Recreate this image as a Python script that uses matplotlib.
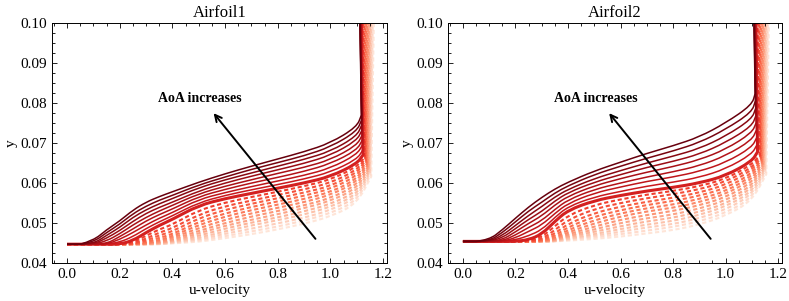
#!/usr/bin/env python3
"""
Velocity profiles for two airfoils, coloured by angle of attack.
"""

import matplotlib
matplotlib.use('Agg')  # no display
import matplotlib.pyplot as plt
import numpy as np
from matplotlib.path import Path
from matplotlib.patches import PathPatch
from matplotlib.ticker import MultipleLocator

# u-velocity positions where each profile was read (the profile is flat on
# the wall value for u = 0 and u = 0.05)
U_GRID = [0.1, 0.15, 0.2, 0.25, 0.3, 0.35, 0.4, 0.5, 0.6, 0.7, 0.8, 0.9, 1.0, 1.1]

# ---- Airfoil1 (y values in units of 1e-3) ----
A1_FLOOR = 44.7
A1_SOLID = [
    [45.6, 48.3, 50.5, 53.2, 55.2, 56.6, 57.8, 60.2, 62.3, 64.2, 66.0, 67.8, 70.0, 74.0],
    [45.2, 47.6, 49.7, 52.3, 54.2, 55.7, 56.9, 59.5, 61.5, 63.4, 65.1, 66.8, 69.0, 72.9],
    [44.8, 46.9, 48.9, 51.4, 53.3, 54.8, 56.1, 58.8, 60.8, 62.5, 64.2, 65.9, 67.9, 71.7],
    [44.7, 46.2, 48.1, 50.4, 52.4, 53.9, 55.2, 58.0, 60.0, 61.7, 63.3, 64.9, 66.9, 70.6],
    [44.7, 45.5, 47.3, 49.5, 51.4, 53.0, 54.4, 57.3, 59.2, 60.8, 62.4, 63.9, 65.8, 69.4],
    [44.7, 44.8, 46.6, 48.5, 50.5, 52.1, 53.5, 56.6, 58.4, 60.0, 61.4, 62.9, 64.8, 68.2],
    [44.7, 44.7, 45.9, 47.6, 49.5, 51.2, 52.6, 55.9, 57.6, 59.1, 60.5, 61.9, 63.7, 67.1],
    [44.7, 44.7, 45.2, 46.6, 48.6, 50.3, 51.8, 55.1, 56.9, 58.3, 59.6, 61.0, 62.7, 65.9],
    [44.7, 44.7, 44.7, 45.6, 47.6, 49.4, 50.9, 54.4, 56.1, 57.4, 58.7, 60.0, 61.6, 64.8],
]
A1_SOLID_KNEE_U = [1.118, 1.119, 1.119, 1.120, 1.121, 1.122, 1.122, 1.123, 1.124]
A1_SOLID_KNEE_Y = [77.0, 75.8, 74.5, 73.2, 72.0, 70.8, 69.5, 68.2, 67.0]
A1_SOLID_TOP_U = [1.112, 1.113, 1.113, 1.114, 1.115, 1.115, 1.116, 1.117, 1.118]
A1_DASHED = [
    [44.7, 44.7, 44.7, 45.1, 46.8, 48.4, 49.6, 53.2, 55.1, 56.5, 57.8, 59.2, 60.8, 64.0],
    [44.7, 44.7, 44.7, 44.8, 46.1, 47.6, 48.7, 52.1, 54.2, 55.6, 57.0, 58.4, 60.0, 63.2],
    [44.7, 44.7, 44.7, 44.7, 45.6, 46.9, 47.9, 51.2, 53.3, 54.8, 56.2, 57.6, 59.2, 62.5],
    [44.7, 44.7, 44.7, 44.7, 45.2, 46.3, 47.2, 50.3, 52.4, 54.0, 55.4, 56.8, 58.5, 61.7],
    [44.7, 44.7, 44.7, 44.7, 44.9, 45.8, 46.7, 49.5, 51.6, 53.2, 54.6, 56.0, 57.7, 60.9],
    [44.7, 44.7, 44.7, 44.7, 44.8, 45.5, 46.3, 48.7, 50.8, 52.4, 53.8, 55.2, 57.0, 60.2],
    [44.7, 44.7, 44.7, 44.7, 44.7, 45.2, 45.9, 48.0, 50.0, 51.6, 53.0, 54.4, 56.2, 59.4],
    [44.7, 44.7, 44.7, 44.7, 44.7, 45.0, 45.6, 47.4, 49.3, 50.8, 52.2, 53.7, 55.5, 58.6],
    [44.7, 44.7, 44.7, 44.7, 44.7, 44.9, 45.4, 46.8, 48.6, 50.1, 51.4, 52.9, 54.7, 57.8],
    [44.7, 44.7, 44.7, 44.7, 44.7, 44.8, 45.2, 46.3, 47.9, 49.4, 50.7, 52.1, 54.0, 57.0],
    [44.7, 44.7, 44.7, 44.7, 44.7, 44.7, 45.1, 45.9, 47.3, 48.6, 49.9, 51.3, 53.2, 56.3],
    [44.7, 44.7, 44.7, 44.7, 44.7, 44.7, 45.0, 45.6, 46.7, 47.9, 49.1, 50.6, 52.4, 55.5],
    [44.7, 44.7, 44.7, 44.7, 44.7, 44.7, 44.9, 45.3, 46.2, 47.2, 48.4, 49.8, 51.6, 54.8],
]
A1_DASHED_KNEE_U = [1.130, 1.132, 1.134, 1.136, 1.138, 1.140, 1.142, 1.144, 1.146, 1.148, 1.150, 1.152, 1.155]
A1_DASHED_KNEE_Y = [66.4, 66.0, 65.6, 65.2, 64.8, 64.4, 64.0, 63.6, 63.2, 62.8, 62.4, 62.0, 61.6]
A1_DASHED_TOP_U = [1.122, 1.126, 1.129, 1.133, 1.136, 1.140, 1.143, 1.147, 1.150, 1.154, 1.157, 1.161, 1.165]

# ---- Airfoil2 ----
A2_FLOOR = 45.4
A2_SOLID = [
    [45.8, 48.3, 51.2, 54.0, 56.4, 58.5, 60.2, 63.0, 65.2, 67.4, 69.3, 71.5, 75.0, 79.5],
    [45.5, 47.6, 50.3, 53.0, 55.2, 57.5, 59.3, 62.1, 64.2, 66.2, 68.0, 70.1, 73.4, 77.7],
    [45.4, 46.9, 49.4, 51.9, 54.1, 56.5, 58.4, 61.1, 63.1, 65.0, 66.7, 68.6, 71.7, 76.0],
    [45.4, 46.3, 48.6, 50.9, 52.9, 55.5, 57.6, 60.2, 62.1, 63.9, 65.4, 67.2, 70.1, 74.2],
    [45.4, 45.8, 47.8, 49.9, 51.8, 54.5, 56.7, 59.3, 61.1, 62.7, 64.1, 65.8, 68.4, 72.5],
    [45.4, 45.5, 47.0, 48.9, 50.6, 53.4, 55.8, 58.4, 60.0, 61.5, 62.8, 64.3, 66.8, 70.7],
    [45.4, 45.4, 46.3, 47.9, 49.5, 52.4, 54.9, 57.5, 59.0, 60.4, 61.5, 62.9, 65.1, 68.9],
    [45.4, 45.4, 45.8, 46.8, 48.3, 51.4, 54.1, 56.5, 57.9, 59.2, 60.2, 61.4, 63.5, 67.2],
    [45.4, 45.4, 45.4, 45.8, 47.2, 50.4, 53.2, 55.6, 56.9, 58.0, 58.9, 60.0, 61.8, 65.4],
]
A2_SOLID_KNEE_U = [1.113, 1.114, 1.115, 1.116, 1.117, 1.118, 1.119, 1.120, 1.122]
A2_SOLID_KNEE_Y = [82.4, 80.6, 78.7, 76.9, 75.1, 73.3, 71.4, 69.6, 67.8]
A2_SOLID_TOP_U = [1.108, 1.109, 1.110, 1.111, 1.112, 1.113, 1.114, 1.115, 1.116]
A2_DASHED = [
    [45.4, 45.4, 45.4, 45.5, 46.5, 49.2, 51.9, 54.5, 55.9, 57.1, 58.0, 59.2, 61.0, 64.6],
    [45.4, 45.4, 45.4, 45.4, 46.0, 48.2, 50.8, 53.5, 55.0, 56.2, 57.2, 58.4, 60.3, 63.8],
    [45.4, 45.4, 45.4, 45.4, 45.7, 47.4, 49.8, 52.5, 54.1, 55.3, 56.3, 57.6, 59.5, 63.1],
    [45.4, 45.4, 45.4, 45.4, 45.5, 46.8, 49.0, 51.6, 53.2, 54.5, 55.5, 56.8, 58.7, 62.3],
    [45.4, 45.4, 45.4, 45.4, 45.4, 46.3, 48.3, 50.7, 52.4, 53.7, 54.6, 56.0, 57.9, 61.6],
    [45.4, 45.4, 45.4, 45.4, 45.4, 46.0, 47.7, 49.9, 51.6, 52.9, 53.8, 55.2, 57.2, 60.8],
    [45.4, 45.4, 45.4, 45.4, 45.4, 45.8, 47.2, 49.1, 50.8, 52.0, 53.0, 54.4, 56.4, 60.0],
    [45.4, 45.4, 45.4, 45.4, 45.4, 45.6, 46.8, 48.4, 50.0, 51.2, 52.1, 53.6, 55.6, 59.2],
    [45.4, 45.4, 45.4, 45.4, 45.4, 45.5, 46.5, 47.8, 49.2, 50.4, 51.3, 52.8, 54.8, 58.5],
    [45.4, 45.4, 45.4, 45.4, 45.4, 45.4, 46.2, 47.2, 48.5, 49.6, 50.5, 52.0, 54.1, 57.7],
    [45.4, 45.4, 45.4, 45.4, 45.4, 45.4, 46.0, 46.8, 47.8, 48.9, 49.7, 51.2, 53.3, 57.0],
    [45.4, 45.4, 45.4, 45.4, 45.4, 45.4, 45.8, 46.4, 47.2, 48.1, 49.0, 50.4, 52.5, 56.2],
    [45.4, 45.4, 45.4, 45.4, 45.4, 45.4, 45.6, 46.0, 46.6, 47.4, 48.2, 49.6, 51.8, 55.5],
]
A2_DASHED_KNEE_U = [1.130, 1.132, 1.134, 1.136, 1.138, 1.140, 1.142, 1.144, 1.146, 1.148, 1.150, 1.152, 1.155]
A2_DASHED_KNEE_Y = [67.0, 66.6, 66.2, 65.8, 65.4, 65.0, 64.6, 64.2, 63.8, 63.4, 63.0, 62.6, 62.2]
A2_DASHED_TOP_U = [1.122, 1.126, 1.129, 1.133, 1.136, 1.140, 1.143, 1.147, 1.150, 1.154, 1.157, 1.161, 1.165]

Y_TOP = 100.0

plt.rcParams['font.family'] = ['Liberation Serif', 'DejaVu Serif']


def profile_path(floor, row, knee_u, knee_y, top_u):
    """Smooth path through one profile: flat wall part, curved body, straight tail."""
    pts = [(0.05, floor)] + list(zip(U_GRID, row)) + [(knee_u, knee_y)]
    pts = [(u, y * 1e-3) for u, y in pts]
    verts = [(0.0, floor * 1e-3), pts[0]]
    codes = [Path.MOVETO, Path.LINETO]
    # quadratic bezier through midpoints keeps the curve smooth
    for i in range(1, len(pts) - 1):
        mid = ((pts[i][0] + pts[i + 1][0]) / 2, (pts[i][1] + pts[i + 1][1]) / 2)
        verts += [pts[i], mid]
        codes += [Path.CURVE3, Path.CURVE3]
    verts += [pts[-1], (top_u, Y_TOP * 1e-3)]
    codes += [Path.LINETO, Path.LINETO]
    return Path(verts, codes)


def draw_panel(ax, title, floor, solid, s_ku, s_ky, s_tu, dashed, d_ku, d_ky, d_tu):
    cmap = plt.get_cmap('Reds')
    d_colors = cmap(np.linspace(0.62, 0.1, len(dashed)))
    s_colors = cmap(np.linspace(1.0, 0.72, len(solid)))

    # dashed profiles, lightest drawn first
    for i in reversed(range(len(dashed))):
        path = profile_path(floor, dashed[i], d_ku[i], d_ky[i], d_tu[i])
        ax.add_patch(PathPatch(path, facecolor='none', edgecolor=d_colors[i],
                               linewidth=1.5, linestyle=(0, (2.0, 1.3)),
                               capstyle='butt'))

    # solid profiles, the last one is the thick baseline
    for i in reversed(range(len(solid))):
        path = profile_path(floor, solid[i], s_ku[i], s_ky[i], s_tu[i])
        lw = 2.2 if i == len(solid) - 1 else 1.1
        ax.add_patch(PathPatch(path, facecolor='none', edgecolor=s_colors[i],
                               linewidth=lw, joinstyle='round'))

    ax.annotate('', xy=(0.55, 0.0780), xytext=(0.95, 0.0455),
                arrowprops=dict(arrowstyle='->', color='black', lw=1.4,
                                mutation_scale=12))
    ax.text(0.505, 0.0812, 'AoA increases', ha='center', va='center',
            fontsize=10, fontweight='bold')

    ax.set_xlim(-0.057, 1.215)
    ax.set_ylim(0.04, 0.10)
    ax.xaxis.set_major_locator(MultipleLocator(0.2))
    ax.xaxis.set_minor_locator(MultipleLocator(0.05))
    ax.yaxis.set_major_locator(MultipleLocator(0.01))
    ax.yaxis.set_minor_locator(MultipleLocator(0.0025))
    ax.tick_params(which='both', direction='in', top=True, right=True,
                   labelsize=11, width=0.6)
    ax.tick_params(which='major', length=3.5)
    ax.tick_params(which='minor', length=2)
    for sp in ax.spines.values():
        sp.set_linewidth(0.7)
    ax.set_title(title, fontsize=12, pad=4)
    ax.set_xlabel('u-velocity', fontsize=11, labelpad=2)
    ax.set_ylabel('y', fontsize=11, labelpad=2)


fig = plt.figure(figsize=(7.89, 3.01), dpi=100)
ax1 = fig.add_axes([52 / 789, 38 / 301, 335 / 789, 240 / 301])
ax2 = fig.add_axes([448 / 789, 38 / 301, 334 / 789, 240 / 301])

draw_panel(ax1, 'Airfoil1', A1_FLOOR, A1_SOLID, A1_SOLID_KNEE_U, A1_SOLID_KNEE_Y,
           A1_SOLID_TOP_U, A1_DASHED, A1_DASHED_KNEE_U, A1_DASHED_KNEE_Y, A1_DASHED_TOP_U)
draw_panel(ax2, 'Airfoil2', A2_FLOOR, A2_SOLID, A2_SOLID_KNEE_U, A2_SOLID_KNEE_Y,
           A2_SOLID_TOP_U, A2_DASHED, A2_DASHED_KNEE_U, A2_DASHED_KNEE_Y, A2_DASHED_TOP_U)

fig.savefig('out.png', dpi=100)
plt.close(fig)
